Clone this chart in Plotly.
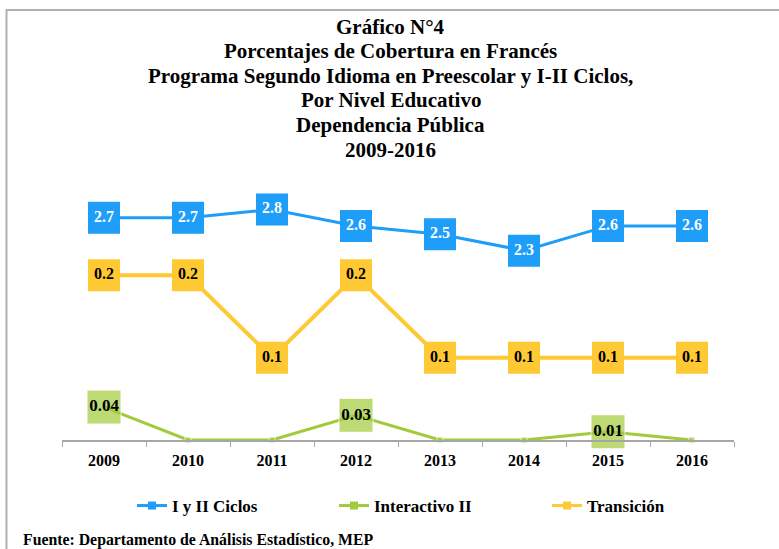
import plotly.graph_objects as go

years = ["2009", "2010", "2011", "2012", "2013", "2014", "2015", "2016"]
ciclos = [2.7, 2.7, 2.8, 2.6, 2.5, 2.3, 2.6, 2.6]
interactivo = [0.04, 0, 0, 0.03, 0, 0, 0.01, 0]
transicion = [0.2, 0.2, 0.1, 0.2, 0.1, 0.1, 0.1, 0.1]

title_lines = [
    "Gráfico N°4",
    "Porcentajes de Cobertura en Francés",
    "Programa Segundo Idioma en Preescolar y I-II Ciclos,",
    "Por Nivel Educativo",
    "Dependencia Pública",
    "2009-2016",
]
title_line_px = [27, 51, 75.5, 100, 125, 150]
source_text = "Fuente: Departamento de Análisis Estadístico, MEP"

BLUE = "#1E9EF8"
GREEN = "#A2CB3C"
YELLOW = "#FFC933"
FONT = "Liberation Serif"

W, H = 779, 549
L, R, T, B = 62, 45, 193, 109
PW = W - L - R
PH = H - T - B


def px_x(px):
    return (px - L) / PW


def px_y(py):
    return (H - B - py) / PH


fig = go.Figure()

# I y II Ciclos (secondary axis)
fig.add_trace(go.Scatter(
    x=years, y=ciclos, yaxis="y2", mode="lines+markers+text",
    line=dict(color=BLUE, width=3),
    marker=dict(symbol="square", size=32, color=BLUE),
    text=[f"{v:.1f}" for v in ciclos], textposition="middle center",
    textfont=dict(family=FONT, size=16, color="white", weight="bold"),
    showlegend=False, cliponaxis=False, hoverinfo="skip",
))

# Interactivo II
fig.add_trace(go.Scatter(
    x=years, y=interactivo, mode="lines+markers+text",
    line=dict(color=GREEN, width=3),
    marker=dict(symbol="square", size=[34 if v > 0 else 6 for v in interactivo], color=GREEN),
    text=[f"{v:.2f}" if v > 0 else "" for v in interactivo], textposition="middle center",
    textfont=dict(family=FONT, size=17, color="black", weight="bold"),
    showlegend=False, cliponaxis=False, hoverinfo="skip",
))

# Transición
fig.add_trace(go.Scatter(
    x=years, y=transicion, mode="lines+markers+text",
    line=dict(color=YELLOW, width=4),
    marker=dict(symbol="square", size=32, color=YELLOW),
    text=[f"{v:.1f}" for v in transicion], textposition="middle center",
    textfont=dict(family=FONT, size=16, color="black", weight="bold"),
    showlegend=False, cliponaxis=False, hoverinfo="skip",
))

# Legend-only traces
for name, color, lg in [("I y II Ciclos", BLUE, "legend"),
                        ("Interactivo II", GREEN, "legend2"),
                        ("Transición", YELLOW, "legend3")]:
    fig.add_trace(go.Scatter(
        x=[None], y=[None], name=name, mode="lines+markers",
        line=dict(color=color, width=3),
        marker=dict(symbol="square", size=8, color=color),
        showlegend=True, legend=lg,
    ))

legend_font = dict(family=FONT, size=17, color="black", weight="bold")
leg_y = px_y(506)

annotations = [dict(
    text=line, xref="paper", yref="paper",
    x=px_x(W / 2 + 1), y=px_y(ypx), xanchor="center", yanchor="middle",
    showarrow=False, font=dict(family=FONT, size=21, color="black", weight="bold"),
) for line, ypx in zip(title_lines, title_line_px)]
annotations.append(dict(
    text=source_text, xref="paper", yref="paper",
    x=px_x(21), y=px_y(540), xanchor="left", yanchor="middle",
    showarrow=False, font=dict(family=FONT, size=15.8, color="black", weight="bold"),
))

fig.update_layout(
    width=W, height=H,
    margin=dict(l=L, r=R, t=T, b=B, autoexpand=False),
    paper_bgcolor="white", plot_bgcolor="white",
    xaxis=dict(
        type="category", range=[-0.5, 7.5],
        showline=True, linecolor="#A6A6A6", linewidth=1.5,
        ticks="outside", tickson="boundaries", ticklen=5, tickcolor="#A6A6A6",
        showgrid=False, zeroline=False, ticklabelstandoff=5,
        tickfont=dict(family=FONT, size=16, color="black", weight="bold"),
    ),
    yaxis=dict(range=[0, 0.3], showgrid=False, zeroline=False,
               showticklabels=False, showline=False, ticks=""),
    yaxis2=dict(range=[0, 3.0], overlaying="y", side="right", showgrid=False,
                zeroline=False, showticklabels=False, showline=False, ticks=""),
    legend=dict(orientation="h", x=px_x(132), y=leg_y, xanchor="left", yanchor="middle",
                font=legend_font, bgcolor="rgba(0,0,0,0)"),
    legend2=dict(orientation="h", x=px_x(334), y=leg_y, xanchor="left", yanchor="middle",
                 font=legend_font, bgcolor="rgba(0,0,0,0)"),
    legend3=dict(orientation="h", x=px_x(547), y=leg_y, xanchor="left", yanchor="middle",
                 font=legend_font, bgcolor="rgba(0,0,0,0)"),
    annotations=annotations,
    shapes=[dict(
        type="rect", xref="paper", yref="paper",
        x0=px_x(6.5), x1=px_x(W + 20), y0=px_y(H + 20), y1=px_y(10),
        line=dict(color="#B0B0B0", width=2), fillcolor="rgba(0,0,0,0)", layer="below",
    )],
)

fig.write_html(
    "out.html",
    config={"displayModeBar": False},
    post_script="document.body.style.margin='0';document.body.style.overflow='hidden';",
)
